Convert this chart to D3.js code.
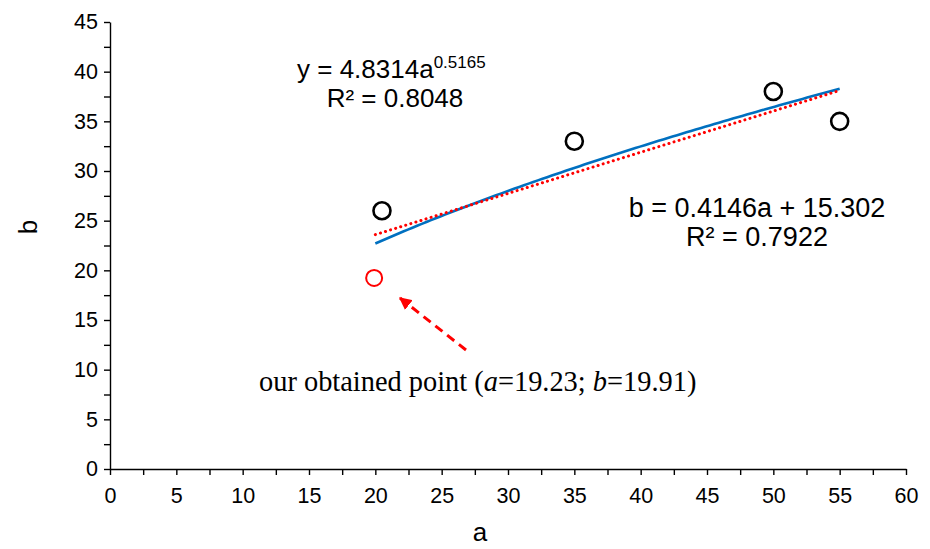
<!DOCTYPE html>
<html>
<head>
<meta charset="utf-8">
<script src="https://cdn.jsdelivr.net/npm/d3@7"></script>
<style>
  html, body { margin: 0; padding: 0; background: #fff; }
  svg { display: block; }
</style>
</head>
<body>
<svg id="chart" width="930" height="549"></svg>
<script>
// Measured points (a, b)
const measuredA = [20.5, 35, 50, 55];
const measuredB = [26, 33, 38, 35];

// Our obtained point
const obtainedA = 19.91;
const obtainedB = 19.23;

// Trendline coefficients
const powerCoef = 4.8314, powerExp = 0.5165, powerR2 = "0.8048";
const linSlope = 0.4146, linIntercept = 15.302, linR2 = "0.7922";
const trendRange = [20, 55];

// Axis ticks
const xTicks = [0, 5, 10, 15, 20, 25, 30, 35, 40, 45, 50, 55, 60];
const yTicks = [0, 5, 10, 15, 20, 25, 30, 35, 40, 45];

const svg = d3.select("#chart");
const margin = { left: 110, right: 24, top: 22, bottom: 80 };
const W = 930, H = 549;

const x = d3.scaleLinear().domain([0, 60]).range([margin.left, W - margin.right]);
const y = d3.scaleLinear().domain([0, 45]).range([H - margin.bottom, margin.top]);

const sans = "'Liberation Sans', Arial, sans-serif";
const serif = "'Liberation Serif', 'Times New Roman', serif";

// Minor ticks halfway between labelled ticks
const xMinor = d3.range(2.5, 60, 5);
const yMinor = d3.range(2.5, 45, 5);

// X axis
const gx = svg.append("g").attr("transform", `translate(0,${y(0)})`);
gx.call(d3.axisBottom(x).tickValues(xTicks).tickSize(6).tickPadding(13).tickSizeOuter(0));
gx.append("g").call(d3.axisBottom(x).tickValues(xMinor).tickSize(6).tickFormat("").tickSizeOuter(0))
  .select(".domain").remove();

// Y axis
const gy = svg.append("g").attr("transform", `translate(${x(0)},0)`);
gy.call(d3.axisLeft(y).tickValues(yTicks).tickSize(6).tickPadding(6).tickSizeOuter(0));
gy.append("g").call(d3.axisLeft(y).tickValues(yMinor).tickSize(6).tickFormat("").tickSizeOuter(0))
  .select(".domain").remove();

svg.selectAll(".domain, .tick line").attr("stroke", "#000").attr("stroke-width", 1.4);
svg.selectAll("g").attr("font-family", null).attr("font-size", null);
svg.selectAll(".tick text")
  .style("font-family", sans).style("font-size", "21.5px").attr("fill", "#000");

// Axis titles
svg.append("text").attr("x", 480).attr("y", 541)
  .attr("text-anchor", "middle").style("font-family", sans).style("font-size", "26px").text("a");
svg.append("text").attr("transform", `translate(37,227) rotate(-90)`)
  .attr("text-anchor", "middle").style("font-family", sans).style("font-size", "26px").text("b");

// Trendlines
const steps = d3.range(0, 101).map(i => trendRange[0] + (trendRange[1] - trendRange[0]) * i / 100);
const line = d3.line().x(d => x(d[0])).y(d => y(d[1]));

svg.append("path")
  .datum(steps.map(a => [a, powerCoef * Math.pow(a, powerExp)]))
  .attr("d", line).attr("fill", "none").attr("stroke", "#0070C0").attr("stroke-width", 2.6);

svg.append("path")
  .datum(trendRange.map(a => [a, linSlope * a + linIntercept]))
  .attr("d", line).attr("fill", "none").attr("stroke", "#FF0000").attr("stroke-width", 3)
  .attr("stroke-dasharray", "0.1 5.2").attr("stroke-linecap", "round");

// Measured points
svg.selectAll("circle.measured")
  .data(measuredA.map((a, i) => [a, measuredB[i]]))
  .join("circle").attr("class", "measured")
  .attr("cx", d => x(d[0])).attr("cy", d => y(d[1])).attr("r", 8.5)
  .attr("fill", "none").attr("stroke", "#000").attr("stroke-width", 2.6);

// Obtained point
svg.append("circle").attr("cx", x(obtainedA)).attr("cy", y(obtainedB)).attr("r", 8)
  .attr("fill", "none").attr("stroke", "#FF0000").attr("stroke-width", 2);

// Equation labels
const eq1 = svg.append("text").attr("x", 297).attr("y", 78)
  .style("font-family", sans).style("font-size", "26px").attr("fill", "#000");
eq1.append("tspan").text(`y = ${powerCoef}a`);
eq1.append("tspan").style("font-size", "17px").attr("dy", -10).text(powerExp);
svg.append("text").attr("x", 395).attr("y", 107).attr("text-anchor", "middle")
  .style("font-family", sans).style("font-size", "26px").text(`R² = ${powerR2}`);

svg.append("text").attr("x", 757).attr("y", 217).attr("text-anchor", "middle")
  .style("font-family", sans).style("font-size", "27px").text(`b = ${linSlope}a + ${linIntercept}`);
svg.append("text").attr("x", 757).attr("y", 246).attr("text-anchor", "middle")
  .style("font-family", sans).style("font-size", "27px").text(`R² = ${linR2}`);

// Annotation arrow
svg.append("defs").append("marker").attr("id", "head")
  .attr("viewBox", "0 0 10 10").attr("refX", 9).attr("refY", 5)
  .attr("markerWidth", 4.2).attr("markerHeight", 4.2).attr("markerUnits", "strokeWidth")
  .attr("orient", "auto")
  .append("path").attr("d", "M0,0 L10,5 L0,10 Z").attr("fill", "#FF0000");

svg.append("line").attr("x1", 466).attr("y1", 350).attr("x2", 400).attr("y2", 298)
  .attr("stroke", "#FF0000").attr("stroke-width", 3).attr("stroke-dasharray", "9 6")
  .attr("marker-end", "url(#head)");

// Annotation text
const ann = svg.append("text").attr("x", 259).attr("y", 391)
  .style("font-family", serif).style("font-size", "28.4px").attr("fill", "#000");
ann.append("tspan").text("our obtained point (");
ann.append("tspan").style("font-style", "italic").text("a");
ann.append("tspan").text(`=${obtainedB}; `);
ann.append("tspan").style("font-style", "italic").text("b");
ann.append("tspan").text(`=${obtainedA})`);
</script>
</body>
</html>
